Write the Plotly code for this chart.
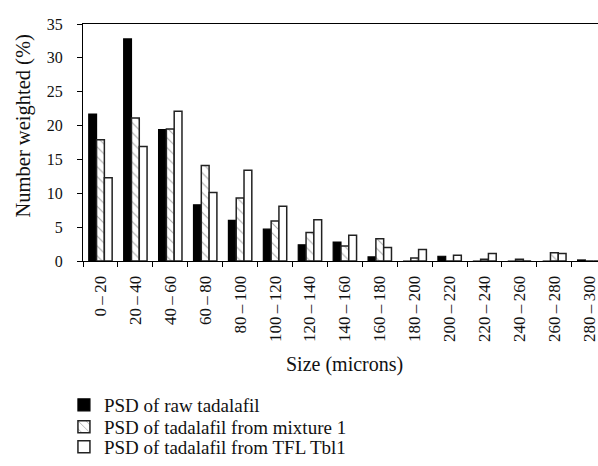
import plotly.graph_objects as go

# Particle size bins (microns); thin spaces around the dash
size_bins = ["0\u2009–\u200920", "20\u2009–\u200940", "40\u2009–\u200960", "60\u2009–\u200980",
             "80\u2009–\u2009100", "100\u2009–\u2009120", "120\u2009–\u2009140", "140\u2009–\u2009160",
             "160\u2009–\u2009180", "180\u2009–\u2009200", "200\u2009–\u2009220", "220\u2009–\u2009240",
             "240\u2009–\u2009260", "260\u2009–\u2009280", "280\u2009–\u2009300"]

# Number-weighted distribution (%) for each sample
raw_tadalafil = [21.7, 32.8, 19.4, 8.3, 6.0, 4.7, 2.4, 2.8, 0.6, 0, 0.7, 0, 0, 0, 0.15]
mixture_1 = [17.9, 21.1, 19.5, 14.1, 9.3, 5.9, 4.2, 2.2, 3.3, 0.45, 0, 0.25, 0.25, 1.2, 0]
tfl_tbl1 = [12.3, 16.9, 22.1, 10.1, 13.4, 8.1, 6.1, 3.8, 2.0, 1.7, 0.85, 1.1, 0, 1.1, 0]

y_ticks = [0, 5, 10, 15, 20, 25, 30, 35]

FONT = "Liberation Serif"
INK = "#111111"

fig = go.Figure()
fig.add_trace(go.Bar(
    x=size_bins, y=raw_tadalafil, name="PSD of raw tadalafil", legend="legend",
    marker=dict(color="black", line=dict(color="black", width=1.2)),
))
fig.add_trace(go.Bar(
    x=size_bins, y=mixture_1, name="PSD of tadalafil from mixture 1", legend="legend2",
    marker=dict(color="white", line=dict(color="#222222", width=1.5),
                pattern=dict(shape="\\", fgcolor="#555555", bgcolor="white",
                             size=7, solidity=0.15)),
))
fig.add_trace(go.Bar(
    x=size_bins, y=tfl_tbl1, name="PSD of tadalafil from TFL Tbl1", legend="legend3",
    marker=dict(color="white", line=dict(color="#222222", width=1.5)),
))

# one single-entry legend per series, stacked under the axis title
legend_rows = [-0.601, -0.693, -0.786]
legend_style = dict(orientation="v", x=-0.037, xanchor="left", yanchor="middle",
                    font=dict(family=FONT, size=19, color=INK),
                    itemwidth=30, bgcolor="rgba(0,0,0,0)", borderwidth=0)

fig.update_layout(
    width=598, height=466,
    margin=dict(l=83, r=0, t=24, b=204),
    paper_bgcolor="white", plot_bgcolor="white",
    barmode="group", bargap=0.33, bargroupgap=0,
    font=dict(family=FONT, size=16, color=INK),
    showlegend=True,
    legend=dict(y=legend_rows[0], **legend_style),
    legend2=dict(y=legend_rows[1], **legend_style),
    legend3=dict(y=legend_rows[2], **legend_style),
    xaxis=dict(
        type="category", range=[-0.5, 14.25],
        showline=True, linecolor="black", linewidth=1, mirror=True,
        ticks="outside", tickson="boundaries", ticklen=5, tickcolor="black",
        tickangle=-90, tickfont=dict(family=FONT, size=17, color=INK),
        ticklabelstandoff=7,
        showgrid=False, zeroline=False,
    ),
    yaxis=dict(
        range=[0, 35], tickvals=y_ticks,
        showline=True, linecolor="black", linewidth=1,
        ticks="outside", ticklen=5, tickcolor="black",
        tickfont=dict(family=FONT, size=16, color=INK),
        ticklabelstandoff=11,
        showgrid=False, zeroline=False,
    ),
    annotations=[
        dict(text="Size (microns)", xref="paper", yref="paper", x=0.507, y=-0.437,
             xanchor="center", yanchor="middle", showarrow=False,
             font=dict(family=FONT, size=20, color=INK)),
        dict(text="Number weighted (%)", xref="paper", yref="paper", x=-0.115, y=0.571,
             xanchor="center", yanchor="middle", textangle=-90, showarrow=False,
             font=dict(family=FONT, size=20.5, color=INK)),
    ],
)

fig.write_html("out.html")
